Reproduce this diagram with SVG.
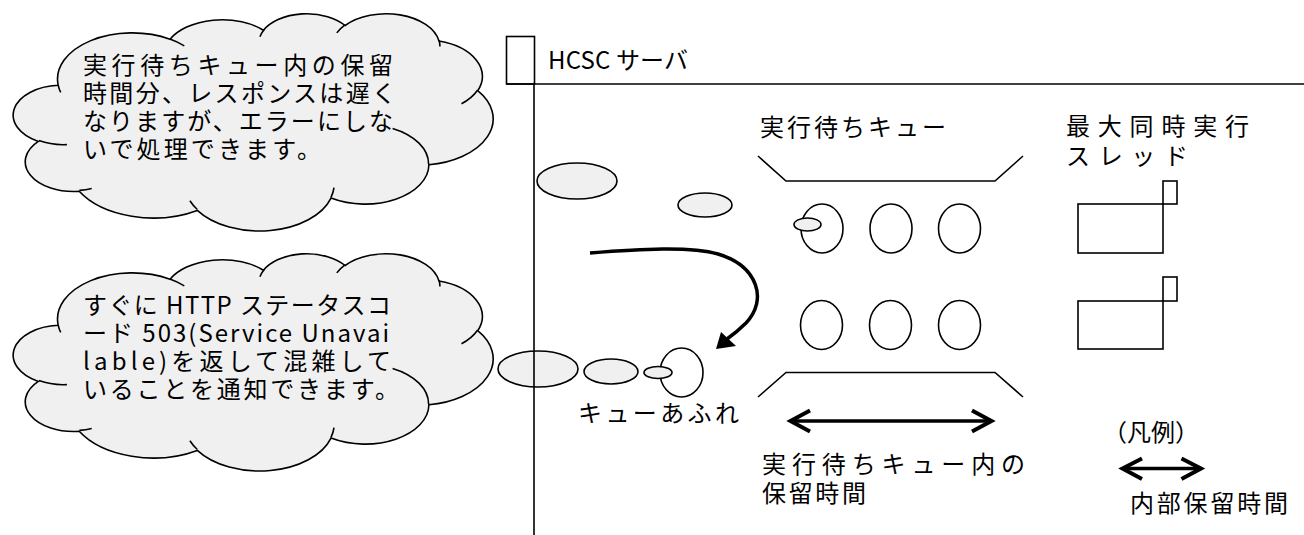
<svg xmlns="http://www.w3.org/2000/svg" width="1304" height="535" viewBox="0 0 1304 535">
<defs>
<style>
text{font-family:"Noto Sans CJK JP","Noto Sans",sans-serif;fill:#000;}
.t24{font-size:24px;}
.cloud{fill:#f0f0f0;stroke:#000;stroke-width:1.6;}
.crease{fill:none;stroke:#000;stroke-width:1.6;}
.tail{fill:#f0f0f0;stroke:#000;stroke-width:1.6;}
.ln{fill:none;stroke:#000;stroke-width:1.6;}
.q{fill:#fff;stroke:#000;stroke-width:1.6;}
.arr{fill:none;stroke:#000;stroke-width:3.5;}
.chev{fill:none;stroke:#000;stroke-width:4;stroke-linejoin:miter;stroke-linecap:butt;}
</style>
<path id="cloudShape" d="M58.2 85.3 A74.72 46.21 0 0 1 170.0 39.2 A59.01 36.54 0 0 1 263.5 30.2 A48.30 29.89 0 0 1 345.1 25.5 A53.74 33.16 0 0 1 439.0 41.0 A59.01 36.57 0 0 1 477.7 90.7 A74.97 46.36 0 0 1 428.9 164.8 A64.01 39.56 0 0 1 331.0 198.1 A74.71 46.33 0 0 1 197.3 210.4 A85.42 53.01 0 0 1 79.2 191.3 A48.24 29.76 0 0 1 38.3 141.4 A48.08 29.89 0 0 1 58.2 85.3 Z"/>
<path id="cloudCrease" d="M66.9 144.6 A48.08 29.89 0 0 1 38.9 140.6 M91.7 188.5 A48.24 29.76 0 0 1 79.4 190.4 M197.3 209.5 A74.71 46.33 0 0 1 189.9 200.8 M334.0 187.7 A74.71 46.33 0 0 1 331.0 197.3 M392.6 128.4 A64.01 39.56 0 0 1 428.6 164.3 M477.5 90.2 A59.01 36.57 0 0 1 461.5 103.7 M439.1 40.3 A53.74 33.16 0 0 1 439.9 46.6 M336.8 32.9 A53.74 33.16 0 0 1 345.0 24.8 M260.0 36.7 A48.30 29.89 0 0 1 264.0 29.7 M169.9 39.1 A74.72 46.21 0 0 1 184.3 45.9 M60.7 92.4 A74.72 46.21 0 0 1 58.2 85.3"/>
</defs>
<rect width="1304" height="535" fill="#fff"/>

<!-- queue -->
<g id="queue">
<path class="ln" d="M758 156 L786 181 L995 181 L1023 156"/>
<path class="ln" d="M758 397 L786 372.5 L995 372.5 L1023 397"/>
<ellipse class="q" cx="822" cy="228.5" rx="21" ry="24.5"/>
<ellipse class="q" cx="891" cy="228.5" rx="21" ry="24.5"/>
<ellipse class="q" cx="959.5" cy="228.5" rx="21" ry="24.5"/>
<ellipse class="q" cx="821.5" cy="325" rx="21" ry="24.5"/>
<ellipse class="q" cx="890.5" cy="325" rx="21" ry="24.5"/>
<ellipse class="q" cx="959.5" cy="325" rx="21" ry="24.5"/>
<text class="t24" x="760" y="136" textLength="186" lengthAdjust="spacing">実行待ちキュー</text>
</g>

<g id="overflow">
<ellipse class="q" cx="681.5" cy="372.5" rx="21.5" ry="24.5"/>
<text class="t24" x="578" y="422" textLength="161" lengthAdjust="spacing">キューあふれ</text>
</g>

<!-- threads -->
<g id="threads">
<rect class="ln" x="1078" y="204" width="85" height="49"/>
<rect class="ln" x="1163" y="181" width="14" height="23"/>
<rect class="ln" x="1078" y="301" width="85" height="48"/>
<rect class="ln" x="1163" y="277" width="14" height="24"/>
<text class="t24"><tspan x="1066" y="135" textLength="183" lengthAdjust="spacing">最大同時実行</tspan><tspan x="1066" y="165" textLength="122" lengthAdjust="spacing">スレッド</tspan></text>
</g>

<!-- cloud 1 -->
<g id="cloud1">
<use href="#cloudShape" class="cloud"/>
<use href="#cloudCrease" class="crease"/>
<text class="t24"><tspan x="83" y="74" textLength="310" lengthAdjust="spacing">実行待ちキュー内の保留</tspan><tspan x="83" y="102" textLength="313" lengthAdjust="spacing">時間分、レスポンスは遅く</tspan><tspan x="83" y="130" textLength="310" lengthAdjust="spacing">なりますが、エラーにしな</tspan><tspan x="83" y="158" textLength="238" lengthAdjust="spacing">いで処理できます。</tspan></text>
<ellipse class="tail" cx="577" cy="181" rx="40" ry="18"/>
<ellipse class="tail" cx="705" cy="205" rx="27" ry="12"/>
<ellipse class="tail" cx="807.5" cy="224.5" rx="13.5" ry="6.5"/>
</g>

<!-- cloud 2 -->
<g id="cloud2">
<g transform="translate(0,240)">
<use href="#cloudShape" class="cloud"/>
<use href="#cloudCrease" class="crease"/>
</g>
<text class="t24"><tspan x="83" y="314" textLength="308" lengthAdjust="spacing">すぐに HTTP ステータスコ</tspan><tspan x="83" y="342" textLength="306" lengthAdjust="spacing">ード 503(Service Unavai</tspan><tspan x="83" y="370" textLength="308" lengthAdjust="spacing">lable)を返して混雑して</tspan><tspan x="83" y="398" textLength="316" lengthAdjust="spacing">いることを通知できます。</tspan></text>
<ellipse class="tail" cx="538" cy="369" rx="40" ry="18"/>
<ellipse class="tail" cx="611" cy="371.5" rx="27" ry="12.5"/>
<ellipse class="tail" cx="658" cy="372.5" rx="14" ry="6"/>
</g>

<!-- server frame -->
<g id="server">
<rect class="ln" x="506.5" y="36.5" width="28" height="47.5"/>
<line class="ln" x1="506.5" y1="84" x2="1304" y2="84"/>
<line class="ln" x1="534" y1="84" x2="534" y2="535"/>
<text class="t24" x="548" y="69" textLength="140" lengthAdjust="spacing">HCSC サーバ</text>
</g>

<!-- labels -->
<g id="hold-label">
<text class="t24"><tspan x="762" y="473" textLength="263" lengthAdjust="spacing">実行待ちキュー内の</tspan><tspan x="762" y="502" textLength="104" lengthAdjust="spacing">保留時間</tspan></text>
</g>
<g id="legend">
<text class="t24" x="1103" y="441">（凡例）</text>
<text class="t24" x="1130" y="512" textLength="158" lengthAdjust="spacing">内部保留時間</text>
</g>

<!-- connectors -->
<g id="connectors">
<path class="arr" d="M590 253 C640 249 690 246 718 254 C758 266 768 300 746 323 C740 329 734 334 727 339"/>
<polygon points="716,349 721,332 736,346" fill="#000"/>
<line class="arr" x1="791" y1="421" x2="990" y2="421"/>
<path class="chev" d="M810 410.5 L790.5 421 L810 431.5"/>
<path class="chev" d="M972 410.5 L991.5 421 L972 431.5"/>
<line class="arr" x1="1124" y1="468.5" x2="1200" y2="468.5"/>
<path class="chev" d="M1142 458.5 L1122.5 468.5 L1142 479"/>
<path class="chev" d="M1181.5 458.5 L1201 468.5 L1181.5 479"/>
</g>
</svg>
